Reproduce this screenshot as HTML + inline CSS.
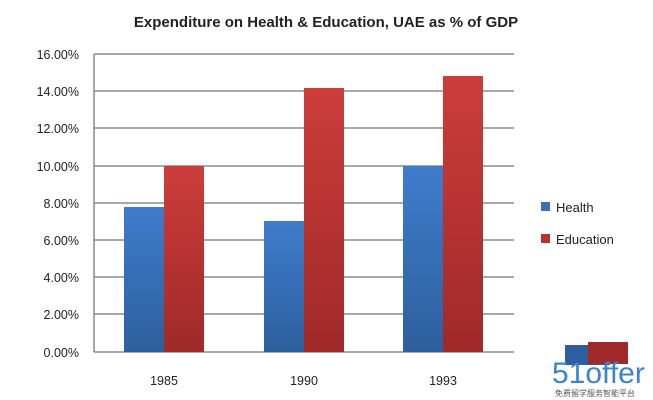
<!DOCTYPE html>
<html><head><style>
body{margin:0;background:#fff;}
svg{display:block;font-family:"Liberation Sans",sans-serif;}
</style></head><body>
<svg width="653" height="400" viewBox="0 0 653 400">
<defs>
<linearGradient id="b" x1="0" y1="0" x2="0" y2="1"><stop offset="0" stop-color="#3f7ccb"/><stop offset="1" stop-color="#2d5f9e"/></linearGradient>
<linearGradient id="r" x1="0" y1="0" x2="0" y2="1"><stop offset="0" stop-color="#cc3d3a"/><stop offset="1" stop-color="#a0292a"/></linearGradient>
</defs>
<text x="326" y="27" text-anchor="middle" font-size="15" font-weight="bold" fill="#222">Expenditure on Health &amp; Education, UAE as % of GDP</text>
<g stroke="#8c8c8c" stroke-width="1.5">
<line x1="94" y1="54" x2="514" y2="54"/><line x1="94" y1="91" x2="514" y2="91"/><line x1="94" y1="128" x2="514" y2="128"/><line x1="94" y1="166" x2="514" y2="166"/><line x1="94" y1="203" x2="514" y2="203"/><line x1="94" y1="240" x2="514" y2="240"/><line x1="94" y1="277" x2="514" y2="277"/><line x1="94" y1="314" x2="514" y2="314"/><line x1="94" y1="352" x2="514" y2="352"/><line x1="94" y1="54" x2="94" y2="352"/>
</g>
<g font-size="12.5" fill="#222" text-anchor="end">
<text x="79" y="59">16.00%</text><text x="79" y="96">14.00%</text><text x="79" y="133">12.00%</text><text x="79" y="171">10.00%</text><text x="79" y="208">8.00%</text><text x="79" y="245">6.00%</text><text x="79" y="282">4.00%</text><text x="79" y="319">2.00%</text><text x="79" y="357">0.00%</text>
</g>
<rect x="124" y="207" width="40" height="145" fill="url(#b)"/>
<rect x="164" y="166" width="40" height="186" fill="url(#r)"/>
<rect x="264" y="221" width="40" height="131" fill="url(#b)"/>
<rect x="304" y="88" width="40" height="264" fill="url(#r)"/>
<rect x="403" y="166" width="40" height="186" fill="url(#b)"/>
<rect x="443" y="76" width="40" height="276" fill="url(#r)"/>
<g font-size="12.5" fill="#222" text-anchor="middle">
<text x="164" y="385">1985</text><text x="304" y="385">1990</text><text x="443" y="385">1993</text>
</g>
<rect x="541" y="202" width="9" height="9" fill="#3a70b8"/>
<text x="556" y="212" font-size="13" fill="#222">Health</text>
<rect x="541" y="234" width="9" height="9" fill="#b83232"/>
<text x="556" y="244" font-size="13" fill="#222">Education</text>
<rect x="565" y="345" width="45" height="20" fill="#2d5f9e"/>
<rect x="588" y="342" width="40" height="22" fill="#a0292a"/>
<text x="552" y="383" font-size="30" fill="#3d82d0">51offer</text>
<text x="555" y="396" font-size="8" fill="#555" font-family="'Noto Sans CJK SC',sans-serif">免费留学服务智能平台</text>
</svg>
</body></html>
